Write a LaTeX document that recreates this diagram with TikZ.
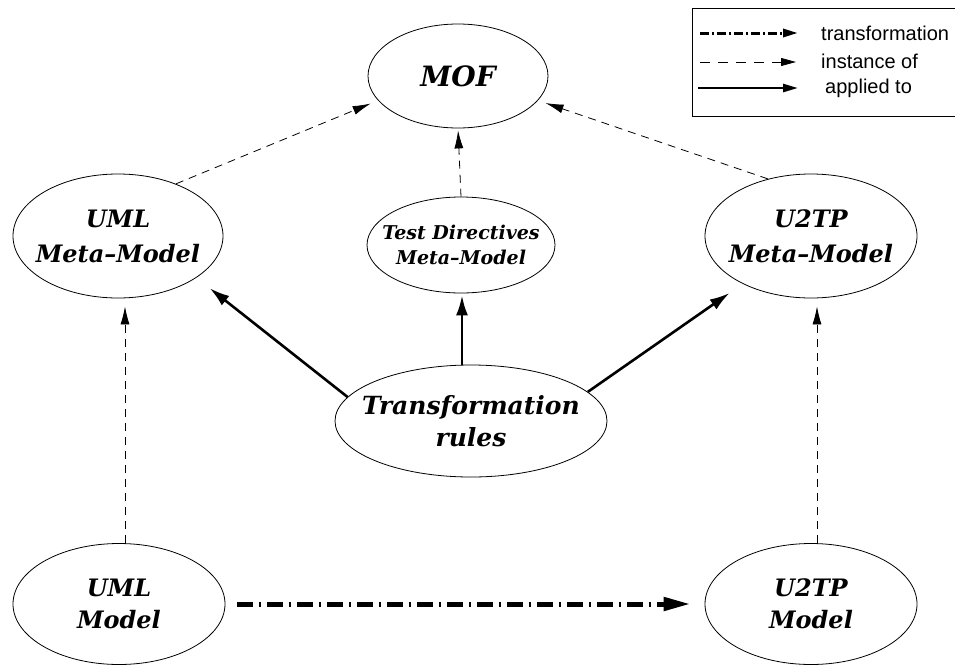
\documentclass[tikz,border=0pt]{standalone}
\usepackage{fontspec}
\setmainfont{DejaVu Serif}
\newfontfamily\legendfont{Liberation Sans}
\usetikzlibrary{shapes.geometric,arrows.meta}

\tikzset{
  % negative inner sep keeps the outline at its minimum size
  oval/.style={draw, ellipse, line width=0.8pt, inner xsep=-40pt, inner ysep=-20pt,
    align=center, font=\fontsize{24}{32}\selectfont\bfseries\itshape},
  inst/.style={line width=0.8pt, dash pattern=on 8pt off 6pt,
    -{Latex[length=18pt,width=9pt]}},
  applied/.style={line width=2.6pt, -{Latex[length=20pt,width=12pt]}},
  transf/.style={line width=5pt, dash pattern=on 16pt off 6pt on 2pt off 6pt,
    -{Triangle[length=27pt,width=13pt]}},
  legtext/.style={anchor=west, inner sep=0pt, font=\fontsize{20}{24}\legendfont},
}

\begin{document}
\begin{tikzpicture}[x=1pt,y=-1pt]
  \useasboundingbox (0,0) rectangle (955,667);

  % model elements
  \node[oval, minimum width=180pt, minimum height=104pt,
        font=\fontsize{28}{34}\selectfont\bfseries\itshape] (mof) at (458,76) {MOF};
  \node[oval, minimum width=210pt, minimum height=124pt,
        font=\fontsize{24}{35}\selectfont\bfseries\itshape] (umlmm) at (118,236) {UML\\Meta--Model};
  \node[oval, minimum width=188pt, minimum height=96pt,
        font=\fontsize{19}{25}\selectfont\bfseries\itshape] (tdmm) at (461,245) {Test Directives\\Meta--Model};
  \node[oval, minimum width=212pt, minimum height=124pt,
        font=\fontsize{24}{35}\selectfont\bfseries\itshape] (u2tpmm) at (811,236) {U2TP\\Meta--Model};
  \node[oval, minimum width=272pt, minimum height=112pt,
        font=\fontsize{25}{32}\selectfont\bfseries\itshape] (rules) at (471,421) {Transformation\\rules};
  \node[oval, minimum width=212pt, minimum height=121pt] (umlm) at (119,604) {UML\\Model};
  \node[oval, minimum width=212pt, minimum height=121pt] (u2tpm) at (811,604) {U2TP\\Model};

  % instance-of relations
  \draw[inst, shorten >=8pt] (umlmm.42) -- (mof.197);
  \draw[inst, shorten >=8pt] (u2tpmm.127) -- (mof.343);
  \draw[inst, shorten >=2pt] (tdmm.north) -- (mof.south);
  \draw[inst, shorten >=8pt] (umlm.north -| 125,0) -- (umlmm.south -| 125,0);
  \draw[inst, shorten >=8pt] (u2tpm.north -| 817,0) -- (u2tpmm.south -| 817,0);

  % transformation rules applied to the meta-models
  \draw[applied, shorten >=17pt] (rules.169) -- (umlmm.-28);
  \draw[applied, shorten >=2pt] (rules.north -| 462,0) -- (tdmm.south -| 462,0);
  \draw[applied, shorten >=16pt] (rules.14) -- (u2tpmm.-145);

  % model transformation
  \draw[transf, shorten <=12pt, shorten >=14pt] (umlm.east) -- (u2tpm.west);

  % legend
  \draw[line width=0.8pt] (692,8) rectangle (970,116);
  \coordinate (l1a) at (700,33);  \coordinate (l1b) at (798,33);
  \coordinate (l2a) at (700,62);  \coordinate (l2b) at (796,62);
  \coordinate (l3a) at (698,88);  \coordinate (l3b) at (798,88);
  \draw[line width=3pt, dash pattern=on 9pt off 3pt on 2pt off 3pt,
        -{Triangle[length=15pt,width=8pt]}] (l1a) -- (l1b);
  \draw[line width=0.8pt, dash pattern=on 10pt off 8pt,
        -{Triangle[length=15pt,width=8pt]}] (l2a) -- (l2b);
  \draw[line width=2.6pt, -{Triangle[length=15pt,width=8pt]}] (l3a) -- (l3b);
  \node[legtext] (t1) at (821,33) {transformation};
  \node[legtext] (t2) at (821,61) {instance of};
  \node[legtext] (t3) at (825,88) {applied to};
\end{tikzpicture}
\end{document}
